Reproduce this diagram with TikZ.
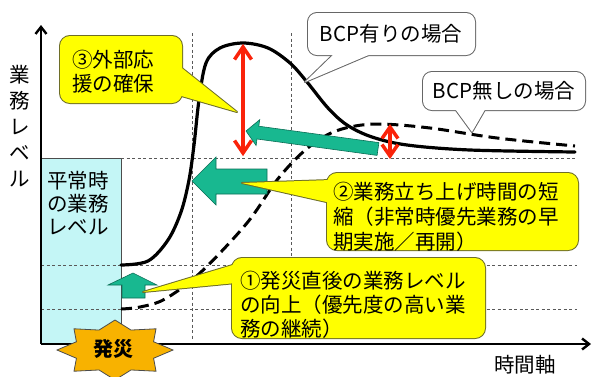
\documentclass[tikz,border=0pt]{standalone}
\usepackage{fontspec}
\newfontfamily\jp{Noto Sans CJK JP}
\usetikzlibrary{arrows.meta}
\definecolor{cyanfill}{RGB}{196,246,246}
\definecolor{tealfill}{RGB}{24,184,144}
\definecolor{tealedge}{RGB}{10,110,85}
\definecolor{yel}{RGB}{255,255,0}
\definecolor{yeledge}{RGB}{110,110,40}
\definecolor{redarrow}{RGB}{250,35,10}
\definecolor{starfill}{RGB}{248,178,0}
\begin{document}
\begin{tikzpicture}[x=1pt,y=-1pt,
  every node/.style={font=\jp\fontsize{20.5}{24}\selectfont, inner sep=0pt, text=black},
  gridline/.style={draw=black!65, dash pattern=on 3pt off 2.5pt, line width=0.9pt},
  axisline/.style={line width=2.4pt, -{Straight Barb[length=7pt,width=11pt]}},
  curvewith/.style={line width=3.2pt, line cap=round, line join=round},
  curvewithout/.style={line width=3pt, dash pattern=on 11pt off 6pt},
  redline/.style={draw=redarrow, line width=3.5pt, line join=miter},
  tealarrow/.style={fill=tealfill, draw=tealedge, line width=0.6pt},
  yedge/.style={draw=yeledge, line width=2pt, line join=round},
  yfill/.style={fill=yel},
  wedge/.style={draw=black!60, line width=2pt, line join=round},
  wfill/.style={fill=white},
  normalbox/.style={draw=black!70, fill=cyanfill, line width=1pt},
  burst/.style={draw=black!70, fill=starfill, line width=0.8pt}
]
\useasboundingbox (0,0) rectangle (593,376);

% normal level box
\node[normalbox, minimum width=80pt, minimum height=186pt, anchor=north west] (normal) at (41,158) {};
\node[anchor=west, align=left, font=\jp\fontsize{20.5}{23}\selectfont] (normaltext) at (47,203) {平常時\\の業務\\レベル};

% grid lines
\coordinate (h1a) at (121,158); \coordinate (h1b) at (576,158);
\coordinate (h2a) at (41,265);  \coordinate (h2b) at (577,265);
\coordinate (h3a) at (41,309);  \coordinate (h3b) at (577,309);
\coordinate (v1a) at (192,33);  \coordinate (v1b) at (192,340);
\coordinate (v2a) at (291,33);  \coordinate (v2b) at (291,340);
\draw[gridline] (h1a) -- (h1b);
\draw[gridline] (h2a) -- (h2b);
\draw[gridline] (h3a) -- (h3b);
\draw[gridline] (v1a) -- (v1b);
\draw[gridline] (v2a) -- (v2b);

% axes
\coordinate (origin) at (41,344);
\coordinate (ytop) at (41,25);
\coordinate (xend) at (591,344);
\draw[axisline] (origin) -- (ytop);
\draw[axisline] (origin) -- (xend);
\node[align=center, font=\jp\fontsize{20.5}{26}\selectfont] (ylabel) at (20,126) {業\\務\\レ\\ベ\\ル};
\node (xlabel) at (525,365) {時間軸};

% curves
\draw[curvewith] plot[smooth, tension=0.55] coordinates {(121,265) (148,261) (168,240) (181,212) (189,180) (194,145) (199,100) (206,63) (220,48) (243,43) (268,48) (290,63) (307,82) (328,108) (347,125) (372,137) (407,145) (470,150) (575,152)};
\draw[curvewithout] plot[smooth, tension=0.55] coordinates {(121,309) (140,307) (165,299) (200,273) (247,223) (277,180) (303,152) (327,135) (350,127) (380,124) (430,128) (497,138) (575,146)};

% red double arrows
\coordinate (r1t) at (243,47); \coordinate (r1b) at (243,153);
\coordinate (r2t) at (390,127); \coordinate (r2b) at (390,156);
\draw[redline] (r1t) -- (r1b);
\draw[redline] (r1t) ++(-8.5,12.5) -- (r1t) -- ++(8.5,12.5);
\draw[redline] (r1b) ++(-8.5,-12.5) -- (r1b) -- ++(8.5,-12.5);
\draw[redline] (r2t) -- (r2b);
\draw[redline] (r2t) ++(-8,11.5) -- (r2t) -- ++(8,11.5);
\draw[redline] (r2b) ++(-8,-11.5) -- (r2b) -- ++(8,-11.5);

% teal arrows
\draw[tealarrow] (246,131) -- (259.7,119.7) -- (258.8,126.2) -- (378.9,142.6) -- (377.1,155.4) -- (257.0,139.0) -- (256.1,145.5) -- cycle;
\draw[tealarrow] (192,181) -- (216,157) -- (216,169) -- (267,169) -- (267,194) -- (216,194) -- (216,205) -- cycle;
\draw[tealarrow] (133,273) -- (157,285) -- (145,285) -- (145,298) -- (122,298) -- (122,285) -- (108,285) -- cycle;

% white callouts
\path[wedge, rounded corners=9pt] (308,13) rectangle (475,55);
\path[wedge] (337,51) -- (305,82) -- (378,51) -- cycle;
\path[wfill, rounded corners=9pt] (308,13) rectangle (475,55);
\path[wfill] (337,51) -- (305,82) -- (378,51) -- cycle;
\node (withlabel) at (391,34) {BCP有りの場合};

\path[wedge, rounded corners=9pt] (423,72) rectangle (585,110);
\path[wedge] (453,106) -- (472,132) -- (487,106) -- cycle;
\path[wfill, rounded corners=9pt] (423,72) rectangle (585,110);
\path[wfill] (453,106) -- (472,132) -- (487,106) -- cycle;
\node (withoutlabel) at (504,91) {BCP無しの場合};

% yellow callout 3
\path[yedge, rounded corners=10pt] (60,36) rectangle (182,103);
\path[yedge] (178,65) -- (237,112) -- (178,95) -- cycle;
\path[yfill, rounded corners=10pt] (60,36) rectangle (182,103);
\path[yfill] (178,65) -- (237,112) -- (178,95) -- cycle;
\node[anchor=west, align=left] (c3) at (72,72) {③外部応\\援の確保};

% yellow callout 2
\path[yedge, rounded corners=10pt] (327,173) rectangle (578,250);
\path[yedge] (331,180) -- (242,183) -- (331,203) -- cycle;
\path[yfill, rounded corners=10pt] (327,173) rectangle (578,250);
\path[yfill] (331,180) -- (242,183) -- (331,203) -- cycle;
\node[anchor=west, align=left, font=\jp\fontsize{20.5}{25}\selectfont] (c2) at (333,217) {②業務立ち上げ時間の短\\縮（非常時優先業務の早\\期実施／再開）};

% yellow callout 1
\path[yedge, rounded corners=10pt] (232,258) rectangle (485,338);
\path[yedge] (236,264) -- (143,292) -- (236,283) -- cycle;
\path[yfill, rounded corners=10pt] (232,258) rectangle (485,338);
\path[yfill] (236,264) -- (143,292) -- (236,283) -- cycle;
\node[anchor=west, align=left] (c1) at (240,305) {①発災直後の業務レベル\\の向上（優先度の高い業\\務の継続）};

% disaster burst
\draw[burst] plot[samples at={0,...,15}, variable=\k] ({115+58*(1-0.28*mod(\k,2))*cos(90+22.5*\k)}, {350-30*(1-0.28*mod(\k,2))*sin(90+22.5*\k)}) -- cycle;
\node[font=\jp\bfseries\fontsize{20}{24}\selectfont] (disaster) at (113,349) {発災};
\end{tikzpicture}
\end{document}
